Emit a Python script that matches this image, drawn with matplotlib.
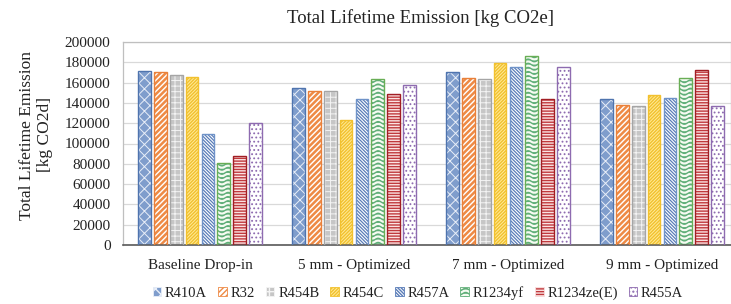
import numpy as np
import matplotlib
matplotlib.use("Agg")
import matplotlib.pyplot as plt
import matplotlib.hatch as mhatch
from matplotlib.path import Path
from matplotlib.patches import Patch

# ---------------- data ----------------
categories = ["Baseline Drop-in", "5 mm - Optimized", "7 mm - Optimized", "9 mm - Optimized"]
series_names = ["R410A", "R32", "R454B", "R454C", "R457A", "R1234yf", "R1234ze(E)", "R455A"]
R410A = [171700, 154300, 170700, 143800]
R32 = [170700, 151700, 164500, 137900]
R454B = [167700, 151700, 163500, 137000]
R454C = [165700, 123200, 179600, 147800]
R457A = [109400, 143800, 175400, 144800]
R1234yf = [80800, 163800, 186000, 164500]
R1234ze = [87300, 148800, 143800, 172700]
R455A = [120200, 157600, 175400, 137200]
values = [R410A, R32, R454B, R454C, R457A, R1234yf, R1234ze, R455A]
yticks = [0, 20000, 40000, 60000, 80000, 100000, 120000, 140000, 160000, 180000, 200000]


# ---------------- custom wavy hatch (bound to '*') ----------------
class WaveHatch(mhatch.HatchPatternBase):
    def __init__(self, hatch, density):
        self.num_lines = int(hatch.count('*') * density)
        self.n_pts = 81
        self.num_vertices = self.num_lines * self.n_pts if self.num_lines else 0

    def set_vertices_and_codes(self, vertices, codes):
        steps, stepsize = np.linspace(0.0, 1.0, self.num_lines, False, retstep=True)
        steps += stepsize / 2.0
        x = np.linspace(0.0, 1.0, self.n_pts)
        wave = 0.32 * stepsize * np.sin(2 * np.pi * 8 * x)
        for i, s in enumerate(steps):
            sl = slice(i * self.n_pts, (i + 1) * self.n_pts)
            vertices[sl, 0] = x
            vertices[sl, 1] = s + wave
            codes[sl] = Path.LINETO
            codes[i * self.n_pts] = Path.MOVETO


mhatch._hatch_types[:] = [t for t in mhatch._hatch_types if t.__name__ != "Stars"] + [WaveHatch]

# ---------------- styles ----------------
styles = [
    # face, hatch color, hatch, edge, hatch lw
    dict(face="#7F9DCC", hc="#E8EEF8", hatch="xxx", edge="#4F74AE", hlw=0.7),
    dict(face="#FFFFFF", hc="#EE8A45", hatch="//////", edge="#E9803A", hlw=1.8),
    dict(face="#C6C6C6", hc="#F4F4F4", hatch="+++", edge="#A5A5A5", hlw=0.7),
    dict(face="#FFEB9A", hc="#F2C12E", hatch="//////////", edge="#F2C12E", hlw=1.0),
    dict(face="#FFFFFF", hc="#5A7DB8", hatch="\\\\\\\\\\\\\\\\\\\\", edge="#6F93C8", hlw=0.9),
    dict(face="#F6FBF2", hc="#5FAE78", hatch="****", edge="#69AE55", hlw=1.0),
    dict(face="#C0393D", hc="#FBE3E3", hatch="------", edge="#A11E24", hlw=1.0),
    dict(face="#FFFFFF", hc="#8E6BB0", hatch="....", edge="#8E6BB0", hlw=0.8),
]

plt.rcParams["font.family"] = ["Liberation Serif", "DejaVu Serif"]

W, H = 731, 304
fig = plt.figure(figsize=(W / 100, H / 100), dpi=100)
ax_left, ax_right, ax_top, ax_bottom = 123, 731, 42, 245
ax = fig.add_axes([ax_left / W, 1 - ax_bottom / H, (ax_right - ax_left) / W, (ax_bottom - ax_top) / H])

x = np.arange(len(categories))
pitch = 0.1026
width = 0.083
handles = []
for i, (name, vals, st) in enumerate(zip(series_names, values, styles)):
    pos = x + (i - 3.5) * pitch
    with plt.rc_context({"hatch.linewidth": st["hlw"], "hatch.color": st["hc"]}):
        ax.bar(pos, vals, width, facecolor=st["face"], edgecolor=st["hc"], hatch=st["hatch"],
               linewidth=0, zorder=2)
        ax.bar(pos, vals, width, fill=False, edgecolor=st["edge"], linewidth=1.0, zorder=3)
        handles.append(Patch(facecolor=st["face"], edgecolor=st["hc"], hatch=st["hatch"],
                             linewidth=0.6, label=name))

ax.set_ylim(0, 200000)
ax.set_xlim(-0.5, -0.5 + (ax_right - ax_left) / 154)
ax.set_yticks(yticks)
ax.set_yticklabels([str(v) for v in yticks])
ax.set_xticks(x)
ax.set_xticklabels(categories)
ax.tick_params(axis="y", length=0, pad=9, labelsize=11, colors="#222222")
ax.tick_params(axis="x", length=0, pad=10, labelsize=11, colors="#222222")
ax.yaxis.grid(True, color="#D9D9D9", linewidth=0.9, zorder=0)
ax.set_axisbelow(True)
for s in ["left", "top", "right"]:
    ax.spines[s].set_color("#BFBFBF")
    ax.spines[s].set_linewidth(0.9)
ax.spines["bottom"].set_color("#595959")
ax.spines["bottom"].set_linewidth(1.2)

fig.text(420 / W, 1 - 18 / H, "Total Lifetime Emission [kg CO2e]", ha="center", va="center",
         fontsize=13.5, color="#222222")
fig.text(36 / W, 1 - 135 / H, "Total Lifetime Emission\n[kg CO2d]", ha="center", va="center",
         rotation=90, fontsize=12.5, color="#222222", linespacing=1.1)

leg = fig.legend(handles=handles, loc="center", bbox_to_anchor=(418 / W, 1 - 293 / H), ncol=8,
                 frameon=False, fontsize=10.5, handlelength=0.6, handleheight=0.6,
                 handletextpad=0.25, columnspacing=0.75, borderpad=0)
for t in leg.get_texts():
    t.set_color("#222222")

fig.savefig("out.png", dpi=100)
